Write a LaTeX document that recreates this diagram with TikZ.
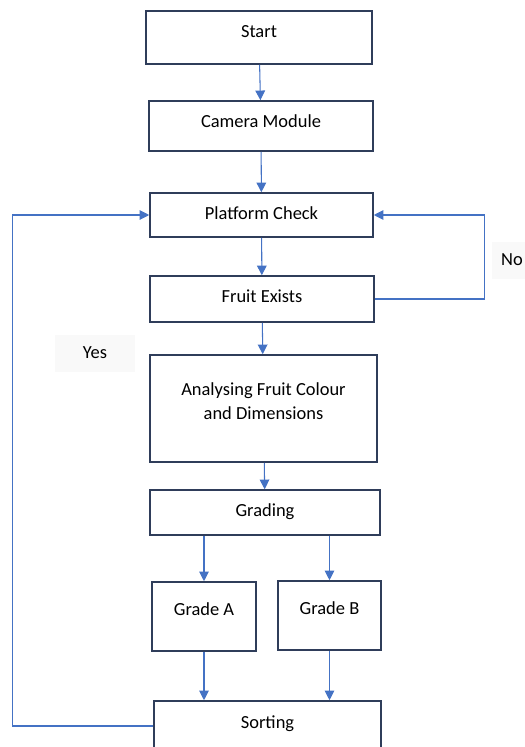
\documentclass[tikz,border=0pt]{standalone}
\usepackage{fontspec}
\setmainfont{Carlito}
\usetikzlibrary{arrows.meta}
\definecolor{boxline}{HTML}{2F3D5A}
\definecolor{arrowblue}{HTML}{4472C4}

\begin{document}
\begin{tikzpicture}
  [x=0.02cm,y=-0.02cm,
   every node/.style={rectangle,draw=boxline,line width=0.9pt,fill=white,
     font=\fontsize{10.5}{13.6}\selectfont,align=center,inner sep=0pt},
   flow/.style={draw=arrowblue,line width=0.6pt,-{Triangle[length=5.5pt,width=5.5pt]}},
   lbl/.style={draw=none,fill=gray!5,minimum height=0.74cm}]
  \useasboundingbox (0,0) rectangle (524,747);

  \node[minimum width=4.52cm,minimum height=1.06cm,text depth=0.22cm] (1) at (259,37.5) {Start};
  \node[minimum width=4.48cm,minimum height=1.00cm,text depth=0.2cm] (2) at (261,126) {Camera Module};
  \node[minimum width=4.46cm,minimum height=0.88cm,text depth=0.08cm] (3) at (261.5,215) {Platform Check};
  \node[minimum width=4.48cm,minimum height=0.92cm,text depth=0.1cm] (4) at (262,299) {Fruit Exists};
  \node[minimum width=4.54cm,minimum height=2.14cm,text depth=0.3cm] (5) at (263.5,408.5) {Analysing Fruit Colour\\and Dimensions};
  \node[minimum width=4.60cm,minimum height=0.90cm,text depth=0.1cm] (6) at (265,512.5) {Grading};
  \node[minimum width=2.08cm,minimum height=1.38cm,text depth=0.28cm] (7) at (204,616.5) {Grade A};
  \node[minimum width=2.06cm,minimum height=1.38cm,text depth=0.28cm] (8) at (329.5,615.5) {Grade B};
  \node[minimum width=4.54cm,minimum height=1.00cm,text depth=0.16cm] (9) at (267.5,726) {Sorting};

  \node[lbl,minimum width=0.8cm] (no) at (512,260) {No};
  \node[lbl,minimum width=1.6cm] (yes) at (95,353) {Yes};

  \foreach \from/\to in {1/2,2/3,3/4,4/5,5/6}
    \draw[flow] (\from) -- (\to);

  \draw[flow] (6.south -| 7) -- (7);
  \draw[flow] (6.south -| 8) -- (8);
  \draw[flow] (7) -- (9.north -| 7);
  \draw[flow] (8) -- (9.north -| 8);

  \draw[flow] (4.east) -- ++(110,0) |- (3.east);
  \draw[flow] (9.west) -- ++(-141,0) |- (3.west);

\end{tikzpicture}
\end{document}
